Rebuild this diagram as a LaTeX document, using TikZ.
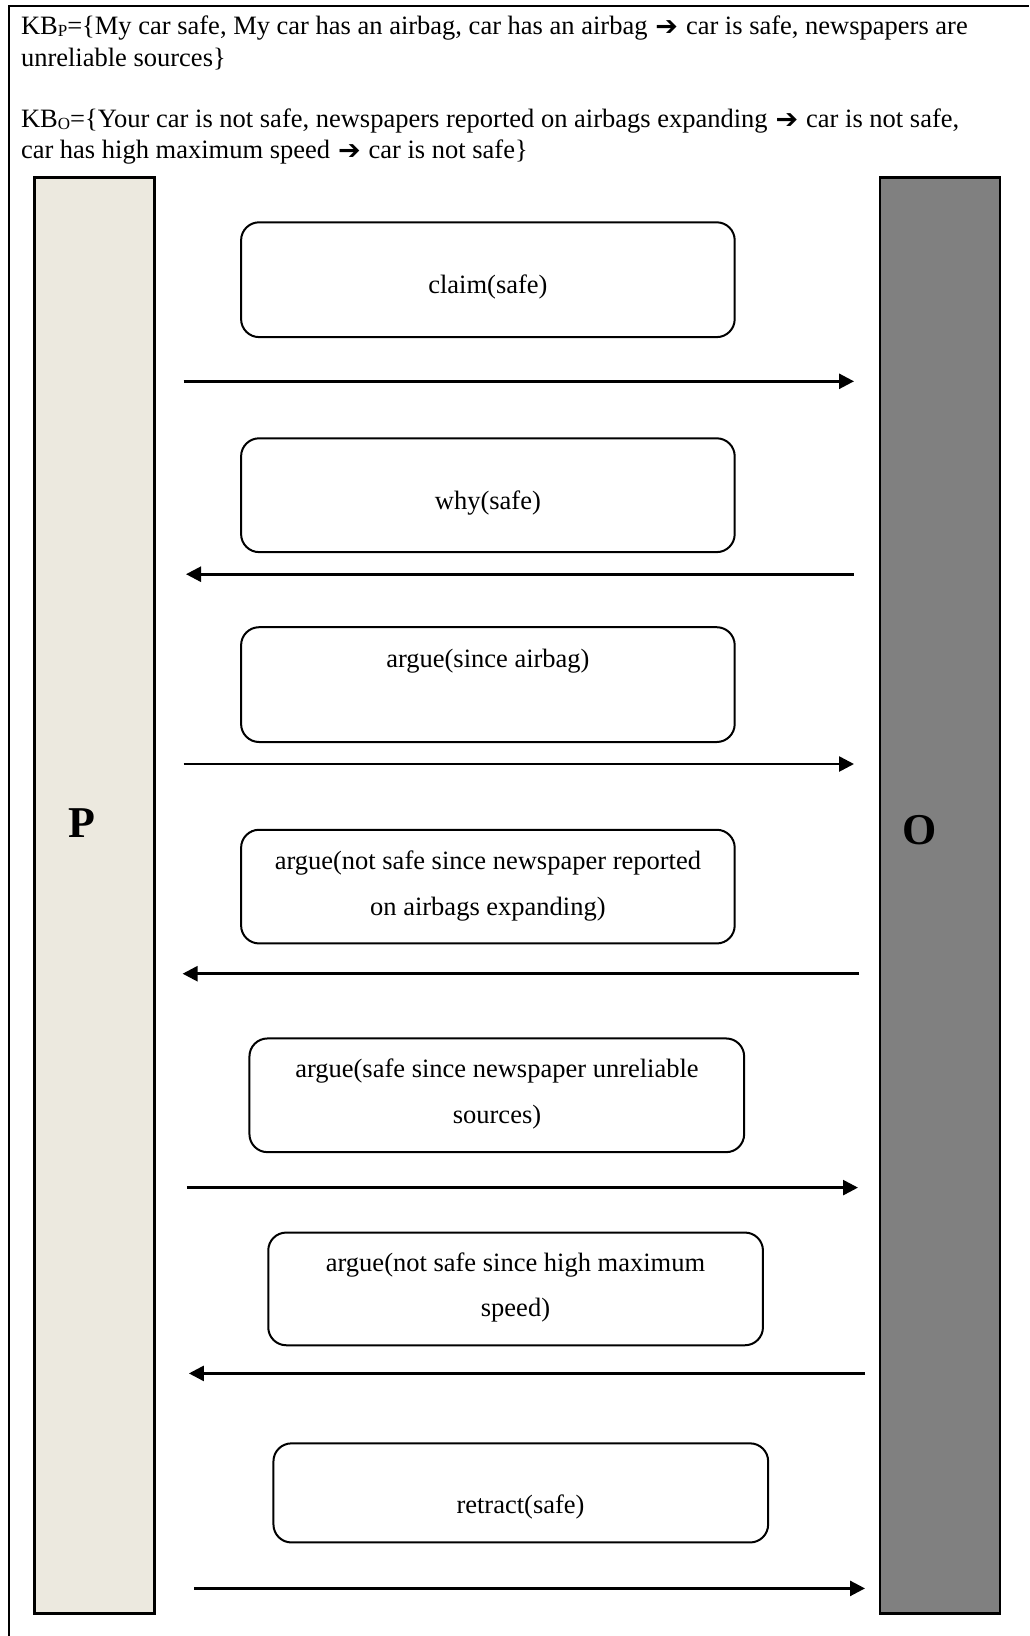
\documentclass[tikz,border=0pt]{standalone}
\usepackage{fontspec}
\setmainfont{Liberation Serif}
\newfontfamily\arrowfont{DejaVu Sans}
\usetikzlibrary{arrows.meta}
\newcommand\harr{\hspace{0.05em}{\arrowfont\fontsize{27}{30}\selectfont\raisebox{-1pt}{➔}}\hspace{0.05em}}
\definecolor{pfill}{HTML}{ECE9DF}
\definecolor{ofill}{HTML}{808080}
\begin{document}
\begin{tikzpicture}[x=1pt,y=-1pt,
  txt/.style={font=\fontsize{26.5}{30}\selectfont, inner sep=0pt, outer sep=0pt},
  msgbox/.style={draw, line width=2pt, rounded corners=18pt, inner sep=0pt, outer sep=0pt, minimum width=493.6pt},
  party/.style={draw, line width=2.2pt, inner sep=0pt, outer sep=0pt, minimum width=120pt, minimum height=1436pt},
  plabel/.style={font=\bfseries\fontsize{44}{50}\selectfont, inner sep=0pt},
  msg/.style={line width=2.6pt, -{Triangle[length=15pt,width=15pt]}}
]
\useasboundingbox (0,0) rectangle (1029,1636);
\fill[white] (0,0) rectangle (1029,1636);
% frame
\coordinate (f1) at (9,1636);
\coordinate (f2) at (9,6);
\coordinate (f3) at (1029,6);
\draw[line width=1.5pt] (f1) -- (f2) -- (f3);
% knowledge bases
\node[txt, anchor=base west] (kbp1) at (21,34.5) {KB{\fontsize{17}{20}\selectfont\raisebox{-2pt}{P}}=\{My car safe, My car has an airbag, car has an airbag \harr{} car is safe, newspapers are};
\node[txt, anchor=base west] (kbp2) at (21,66) {unreliable sources\}};
\node[txt, anchor=base west] (kbo1) at (21,127) {KB{\fontsize{17}{20}\selectfont\raisebox{-2pt}{O}}=\{Your car is not safe, newspapers reported on airbags expanding \harr{} car is not safe,};
\node[txt, anchor=base west] (kbo2) at (21,158) {car has high maximum speed \harr{} car is not safe\}};
% parties
\node[party, fill=pfill] (P) at (94.5,895.4) {};
\node[party, fill=ofill] (O) at (939.8,895.4) {};
\node[plabel] (Plab) at (81.5,823) {P};
\node[plabel] (Olab) at (920,830) {O};
% message boxes
\node[msgbox, minimum height=114.8pt] (b1) at (487.9,279.7) {};
\node[msgbox, minimum height=113.8pt] (b2) at (487.9,495.2) {};
\node[msgbox, minimum height=114.8pt] (b3) at (487.9,684.6) {};
\node[msgbox, minimum height=113.7pt] (b4) at (487.9,886.6) {};
\node[msgbox, minimum width=494.7pt, minimum height=113.7pt] (b5) at (496.8,1095.3) {};
\node[msgbox, minimum width=494.7pt, minimum height=112.7pt] (b6) at (515.6,1288.9) {};
\node[msgbox, minimum width=494.7pt, minimum height=99.1pt] (b7) at (520.8,1492.9) {};
% texts
\node[txt, anchor=base] (t1) at (487.9,293) {claim(safe)};
\node[txt, anchor=base] (t2) at (487.9,509) {why(safe)};
\node[txt, anchor=base] (t3) at (487.9,667.6) {argue(since airbag)};
\node[txt, anchor=base] (t4a) at (487.9,869) {argue(not safe since newspaper reported};
\node[txt, anchor=base] (t4b) at (487.9,915) {on airbags expanding)};
\node[txt, anchor=base] (t5a) at (497,1077.7) {argue(safe since newspaper unreliable};
\node[txt, anchor=base] (t5b) at (497,1123.6) {sources)};
\node[txt, anchor=base] (t6a) at (515.5,1271.8) {argue(not safe since high maximum};
\node[txt, anchor=base] (t6b) at (515.5,1316.7) {speed)};
\node[txt, anchor=base] (t7) at (520.5,1513) {retract(safe)};
% arrows
\coordinate (a1s) at (183.7,381.3); \coordinate (a1e) at (854,381.3);
\coordinate (a2s) at (853.7,574.2); \coordinate (a2e) at (186,574.2);
\coordinate (a3s) at (183.7,764); \coordinate (a3e) at (854,764);
\coordinate (a4s) at (859,973.7); \coordinate (a4e) at (182.6,973.7);
\coordinate (a5s) at (186.8,1187.6); \coordinate (a5e) at (858,1187.6);
\coordinate (a6s) at (865.1,1373.4); \coordinate (a6e) at (188.9,1373.4);
\coordinate (a7s) at (194.1,1588.4); \coordinate (a7e) at (865,1588.4);
\draw[msg] (a1s) -- (a1e);
\draw[msg] (a2s) -- (a2e);
\draw[msg] (a3s) -- (a3e);
\draw[msg] (a4s) -- (a4e);
\draw[msg] (a5s) -- (a5e);
\draw[msg] (a6s) -- (a6e);
\draw[msg] (a7s) -- (a7e);
\end{tikzpicture}
\end{document}
